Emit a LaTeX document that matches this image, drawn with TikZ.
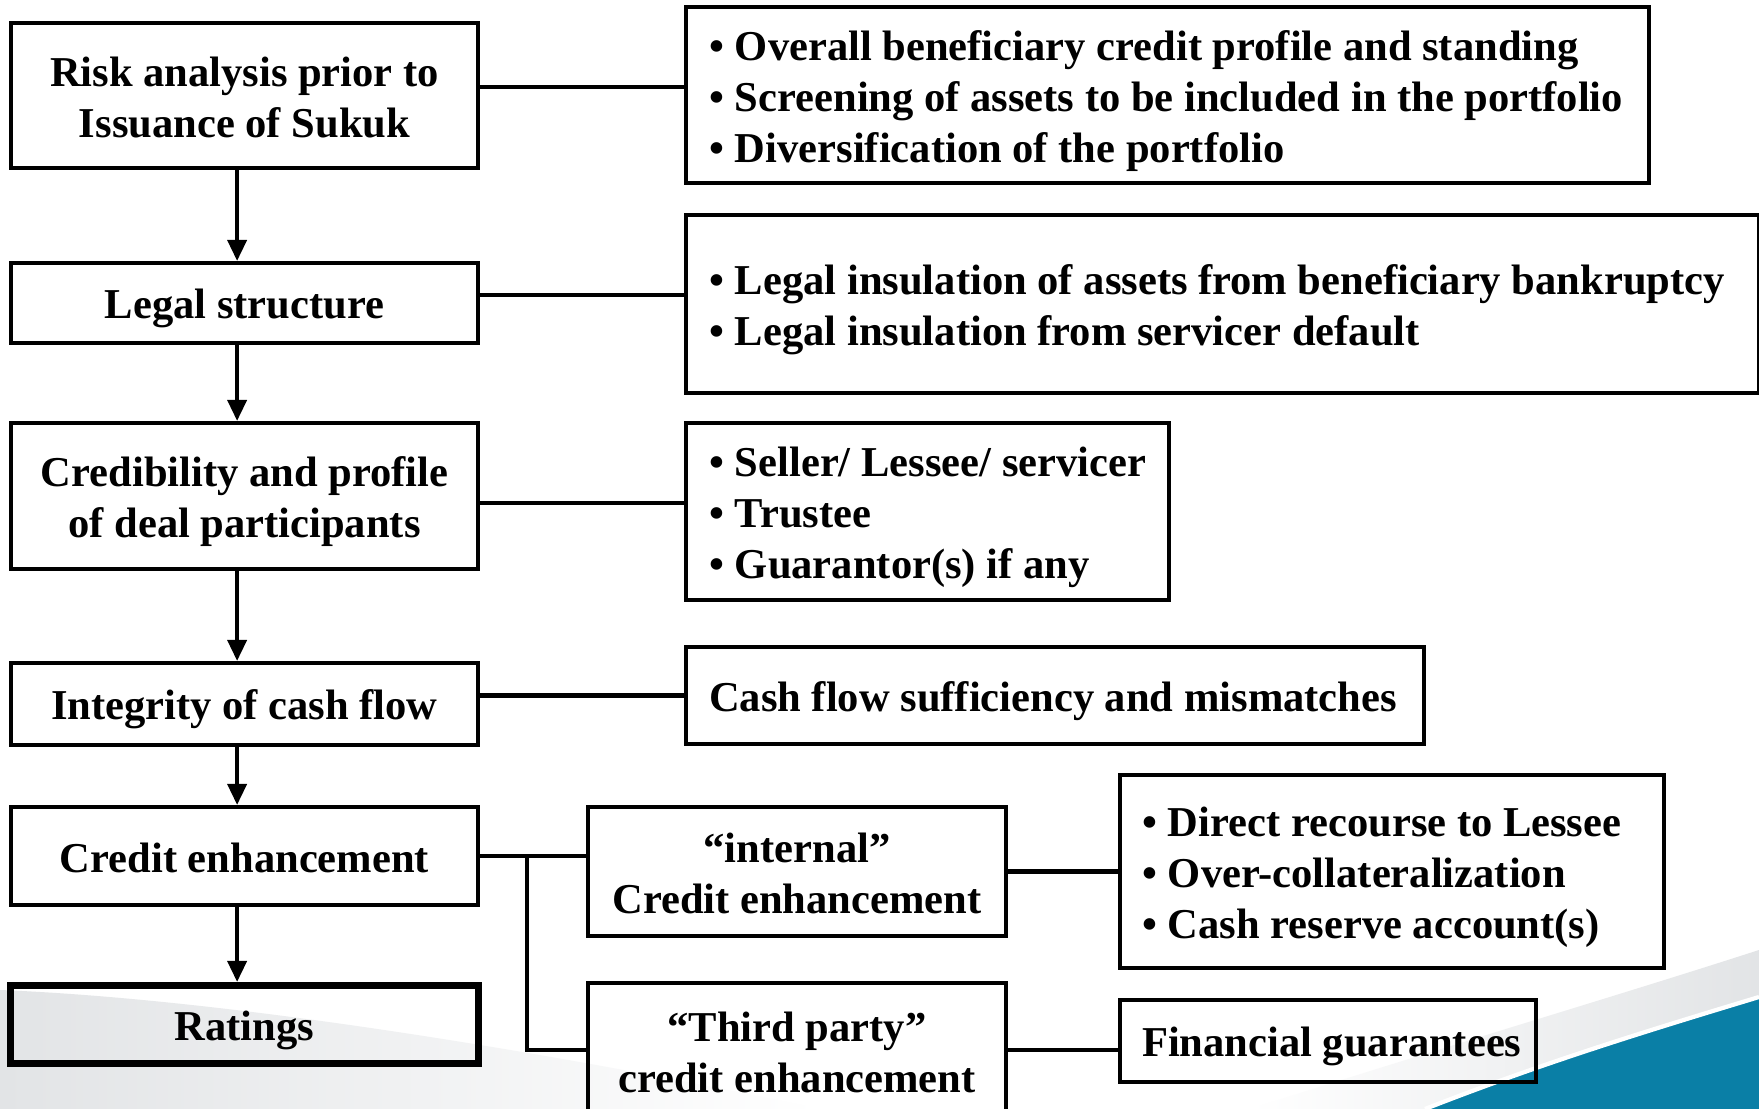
\documentclass[tikz,border=0pt]{standalone}
\usepackage{fontspec}
\setmainfont{Liberation Serif}
\usepackage{tikz}
\usetikzlibrary{arrows.meta}
\definecolor{swoosh}{HTML}{0A7FA6}
\definecolor{haze}{HTML}{E2E4E6}
\newcommand{\bul}[1]{\mbox{\textbullet\hspace{0.26em}#1}}
\newcommand{\linestrut}{\rule[-2.3pt]{0pt}{14pt}}
\tikzset{
  box/.style={draw=black, line width=1.15pt, inner sep=0pt, align=flush center,
    execute at begin node=\linestrut, execute at end node=\linestrut},
  lbox/.style={box, text width=4.67cm},
  rbox/.style={box, anchor=west, align=flush left, inner xsep=0.23cm},
  link/.style={draw=black, line width=1.15pt},
  flow/.style={draw=black, line width=1.15pt, -{Triangle[length=6pt,width=5.4pt]}}
}

\begin{document}
\begin{tikzpicture}[x=0.01cm, y=-0.01cm, every node/.style={font=\bfseries\fontsize{12.1pt}{14.5pt}\selectfont}]
  \useasboundingbox (0,0) rectangle (1759,1109);
  \clip (0,0) rectangle (1759,1109);
  % slide background
  \fill[white] (0,0) rectangle (1759,1109);
  \shade[left color=haze, right color=white] (0,990) .. controls (250,1000) and (600,1062) .. (820,1109) -- (0,1109) -- cycle;
  \shade[left color=white, right color=haze] (1250,1109) .. controls (1450,1045) and (1620,995) .. (1759,950) -- (1759,1109) -- cycle;
  \fill[swoosh] (1425,1109) .. controls (1545,1062) and (1650,1030) .. (1759,997) -- (1759,1109) -- cycle;
  \draw[white, line width=1.2pt] (1425,1109) .. controls (1545,1062) and (1650,1030) .. (1759,997);

  % main column
  \node[lbox, minimum height=1.45cm] (risk) at (244.5,95.5) {Risk analysis prior to\\Issuance of Sukuk};
  \node[lbox, minimum height=0.80cm] (legal) at (244.5,303) {Legal structure};
  \node[lbox, minimum height=1.46cm] (cred) at (244.5,496) {Credibility and profile\\of deal participants};
  \node[lbox, minimum height=0.82cm] (integ) at (244.5,704) {Integrity of cash flow};
  \node[lbox, minimum height=0.98cm] (enh) at (244.5,856) {Credit enhancement};
  \node[lbox, minimum height=0.78cm, line width=2pt] (rate) at (244.5,1024.5) {Ratings};

  % details
  \node[rbox, text width=9.16cm, minimum height=1.76cm] (profile) at (684,95) {\bul{Overall beneficiary credit profile and standing}\\\bul{Screening of assets to be included in the portfolio}\\\bul{Diversification of the portfolio}};
  \node[rbox, text width=10.26cm, minimum height=1.78cm] (insul) at (684,304) {\bul{Legal insulation of assets from beneficiary bankruptcy}\\\bul{Legal insulation from servicer default}};
  \node[rbox, text width=4.37cm, minimum height=1.77cm] (parties) at (684,511.5) {\bul{Seller/ Lessee/ servicer}\\\bul{Trustee}\\\bul{Guarantor(s) if any}};
  \node[rbox, text width=6.92cm, minimum height=0.97cm] (cash) at (684,695.5) {\mbox{Cash flow sufficiency and mismatches}};

  % enhancement branches
  \node[box, text width=4.18cm, minimum height=1.29cm] (intl) at (797,871.5) {“internal”\\Credit enhancement};
  \node[box, text width=4.18cm, minimum height=1.34cm] (third) at (797,1050) {“Third party”\\credit enhancement};
  \node[rbox, inner xsep=0.22cm, text width=5.00cm, minimum height=1.93cm] (recourse) at (1118,871.5) {\bul{Direct recourse to Lessee}\\\bul{Over-collateralization}\\\bul{Cash reserve account(s)}};
  \node[rbox, inner xsep=0.22cm, text width=3.72cm, minimum height=0.82cm] (guar) at (1118,1041) {\mbox{Financial guarantees}};

  % connectors
  \foreach \a/\b in {risk/legal, legal/cred, cred/integ, integ/enh, enh/rate}
    \draw[flow] ([xshift=-2.1pt]\a.south) -- ([xshift=-2.1pt]\b.north);
  \coordinate (c1) at ([yshift=2.4pt]risk.east);
  \coordinate (c2) at ([yshift=2.3pt]legal.east);
  \coordinate (c3) at ([yshift=-2pt]cred.east);
  \draw[link] (c1) -- (c1 -| profile.west);
  \draw[link] (c2) -- (c2 -| insul.west);
  \draw[link] (c3) -- (c3 -| parties.west);
  \draw[link] (cash.west) -- (cash.west -| integ.east);
  \draw[link] (enh.east) -- (enh.east -| intl.west);
  \coordinate (fork) at ([xshift=0.47cm]enh.east);
  \draw[link] (fork) |- (third.west);
  \draw[link] (intl) -- (recourse);
  \draw[link] (third.east) -- (third.east -| guar.west);
\end{tikzpicture}
\end{document}
